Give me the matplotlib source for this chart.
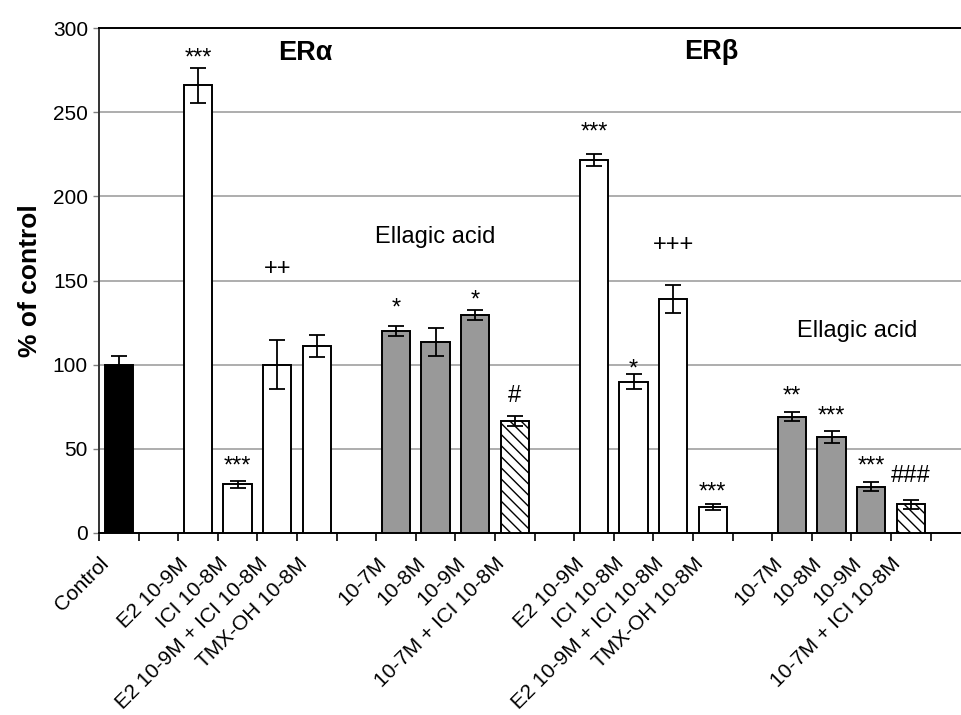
import numpy as np
import matplotlib
matplotlib.use('Agg')
import matplotlib.pyplot as plt
import matplotlib.transforms as mtrans

plt.rcParams['font.family'] = ['Liberation Sans', 'DejaVu Sans']
plt.rcParams['hatch.linewidth'] = 1.0

nan = np.nan

# '' = empty slot between groups
labels = ['Control', '',
          'E2 10-9M', 'ICI 10-8M', 'E2 10-9M + ICI 10-8M', 'TMX-OH 10-8M', '',
          '10-7M', '10-8M', '10-9M', '10-7M + ICI 10-8M', '',
          'E2 10-9M', 'ICI 10-8M', 'E2 10-9M + ICI 10-8M', 'TMX-OH 10-8M', '',
          '10-7M', '10-8M', '10-9M', '10-7M + ICI 10-8M']
kinds = ['control', '',
         'ref', 'ref', 'ref', 'ref', '',
         'ea', 'ea', 'ea', 'ea_ici', '',
         'ref', 'ref', 'ref', 'ref', '',
         'ea', 'ea', 'ea', 'ea_ici']
means = [100, nan,
         266, 29, 100, 111, nan,
         120, 113.5, 129.5, 66.5, nan,
         221.5, 90, 139, 15.5, nan,
         69, 57, 27.5, 17]
errs = [5, nan,
        10.5, 2, 14.5, 6.5, nan,
        3, 8.3, 3, 2.8, nan,
        3.6, 4.5, 8.3, 2, nan,
        2.6, 3.3, 2.6, 2.8]
marks = ['', '',
         '***', '***', '++', '', '',
         '*', '', '*', '#', '',
         '***', '*', '+++', '***', '',
         '**', '***', '***', '###']
mark_y = [nan, nan,
          282, 39.5, 157, nan, nan,
          133.5, nan, 138, 81.5, nan,
          238, 97, 171, 24, nan,
          81, 69, 39.5, 34]

styles = {'control': dict(color='black', hatch=None),
          'ref': dict(color='white', hatch=None),
          'ea': dict(color='#999999', hatch=None),
          'ea_ici': dict(color='white', hatch='\\\\\\')}

fig = plt.figure(figsize=(9.62, 7.15), dpi=100)
ax = fig.add_axes([99 / 962, 1 - 533 / 715, 1 - 99 / 962, (533 - 28) / 715])

x = np.arange(len(labels))
for i in x:
    if np.isnan(means[i]):
        continue
    st = styles[kinds[i]]
    ax.bar(x[i], means[i], width=0.72, color=st['color'], hatch=st['hatch'],
           edgecolor='black', linewidth=1.4, zorder=3)
    ax.errorbar(x[i], means[i], yerr=errs[i], fmt='none', ecolor='black',
                elinewidth=1.3, capsize=6, capthick=1.3, zorder=4)
    if marks[i]:
        ax.text(x[i], mark_y[i], marks[i], ha='center', va='center', fontsize=17)

ax.text(4.7, 285, 'ERα', ha='center', va='center', fontsize=19.5, fontweight='bold')
ax.text(14.95, 286, 'ERβ', ha='center', va='center', fontsize=19.5, fontweight='bold')
ax.text(8, 176, 'Ellagic acid', ha='center', va='center', fontsize=17)
ax.text(18.65, 120, 'Ellagic acid', ha='center', va='center', fontsize=17)

ax.set_xlim(-0.5, -0.5 + (962 - 99) / 39.6)
ax.set_ylim(0, 300)
ax.set_yticks(np.arange(0, 301, 50))
ax.tick_params(axis='y', labelsize=15, length=4, width=1, color='gray', pad=4)
ax.yaxis.grid(True, color='#a0a0a0', linewidth=1.2, zorder=0)
ax.set_axisbelow(True)

ax.set_xticks(np.arange(-0.5, 21, 1))
ax.set_xticklabels([])
ax.tick_params(axis='x', length=6, width=1.2, direction='out')
ax.set_xticks(x, minor=True)
ax.set_xticklabels(labels, minor=True, rotation=45, ha='right', va='top',
                   rotation_mode='anchor', fontsize=15)
ax.tick_params(axis='x', which='minor', length=0, pad=15)
shift = mtrans.ScaledTranslation(-14 / 72, 0, fig.dpi_scale_trans)
for lab in ax.get_xticklabels(minor=True):
    lab.set_transform(lab.get_transform() + shift)

ax.spines['right'].set_visible(False)
for s in ['left', 'bottom', 'top']:
    ax.spines[s].set_linewidth(1.4)
ax.spines['left'].set_color('#333333')

ax.set_ylabel('% of control', fontsize=19, fontweight='bold', labelpad=8)

fig.savefig('out.png', dpi=100)
